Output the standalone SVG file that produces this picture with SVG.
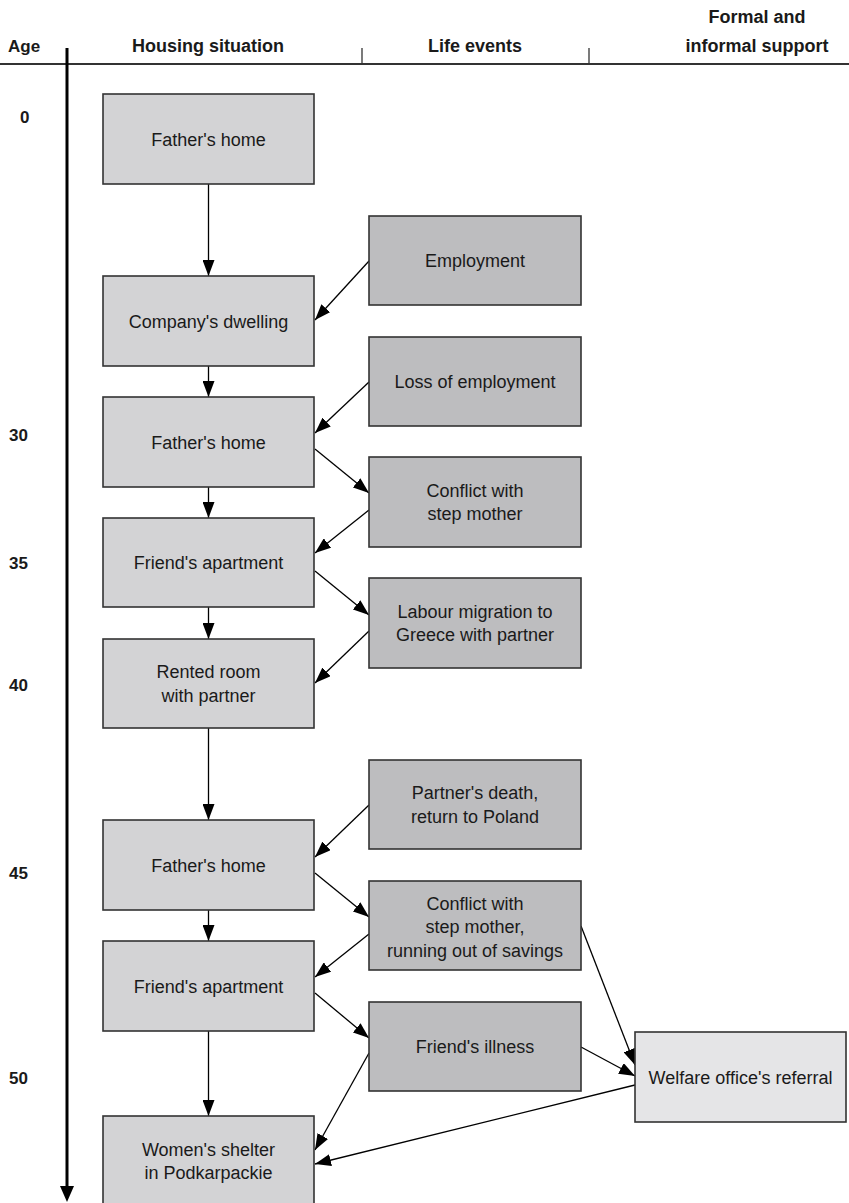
<svg xmlns="http://www.w3.org/2000/svg" width="849" height="1203" viewBox="0 0 849 1203">
<style>
text{font-family:"Liberation Sans",Arial,sans-serif;fill:#1a1a1a}
.h{font-size:18px;font-weight:bold;text-anchor:middle}
.age{font-size:17px;font-weight:bold}
.t{font-size:18px;text-anchor:middle}
.hs rect{fill:#d3d3d5;stroke:#333;stroke-width:1.6}
.le rect{fill:#bdbdbf;stroke:#333;stroke-width:1.6}
.fs rect{fill:#e5e5e7;stroke:#333;stroke-width:1.6}
.c line{stroke:#000;stroke-width:1.3;marker-end:url(#ah)}
</style>
<defs>
<marker id="ah" markerUnits="userSpaceOnUse" markerWidth="16" markerHeight="12" refX="16" refY="6" orient="auto">
<path d="M0,0 L16,6 L0,12 z" fill="#000"/>
</marker>
</defs>
<rect width="849" height="1203" fill="#fff"/>
<g id="header">
<text class="age" x="8" y="52">Age</text>
<text class="h" x="208" y="52">Housing situation</text>
<text class="h" x="475" y="52">Life events</text>
<text class="h" x="757" y="23">Formal and</text>
<text class="h" x="757" y="52">informal support</text>
<line x1="0" y1="64" x2="849" y2="64" stroke="#333" stroke-width="1.8"/>
<line x1="362" y1="48" x2="362" y2="64" stroke="#333" stroke-width="1.3"/>
<line x1="589" y1="48" x2="589" y2="64" stroke="#333" stroke-width="1.3"/>
</g>
<g id="axis">
<line x1="67" y1="48" x2="67" y2="1188" stroke="#000" stroke-width="3"/>
<polygon points="60,1186 74,1186 67,1202" fill="#000"/>
<text class="age" x="20" y="123">0</text>
<text class="age" x="9" y="441">30</text>
<text class="age" x="9" y="569">35</text>
<text class="age" x="9" y="691">40</text>
<text class="age" x="9" y="879">45</text>
<text class="age" x="9" y="1084">50</text>
</g>
<g id="connectors" class="c">
<line x1="208.5" y1="184" x2="208.5" y2="276"/>
<line x1="208.5" y1="366" x2="208.5" y2="397"/>
<line x1="208.5" y1="487" x2="208.5" y2="518"/>
<line x1="208.5" y1="607" x2="208.5" y2="639"/>
<line x1="208.5" y1="728" x2="208.5" y2="820"/>
<line x1="208.5" y1="910" x2="208.5" y2="941"/>
<line x1="208.5" y1="1031" x2="208.5" y2="1116"/>
<line x1="369" y1="261" x2="315" y2="320"/>
<line x1="369" y1="382" x2="315" y2="433"/>
<line x1="315" y1="449" x2="369" y2="493"/>
<line x1="369" y1="510" x2="315" y2="553"/>
<line x1="315" y1="571" x2="369" y2="615"/>
<line x1="369" y1="631" x2="315" y2="683"/>
<line x1="369" y1="805" x2="315" y2="857"/>
<line x1="315" y1="873" x2="369" y2="917"/>
<line x1="369" y1="934" x2="315" y2="977"/>
<line x1="315" y1="993" x2="369" y2="1038"/>
<line x1="369" y1="1053" x2="315" y2="1150"/>
<line x1="581" y1="926" x2="635" y2="1065"/>
<line x1="581" y1="1047" x2="635" y2="1076"/>
<line x1="635" y1="1085" x2="315" y2="1164"/>
</g>
<g id="h1" class="hs"><rect x="103" y="94" width="211" height="90"/><text class="t" x="208.5" y="145.5">Father's home</text></g>
<g id="h2" class="hs"><rect x="103" y="276" width="211" height="90"/><text class="t" x="208.5" y="327.5">Company's dwelling</text></g>
<g id="h3" class="hs"><rect x="103" y="397" width="211" height="90"/><text class="t" x="208.5" y="448.5">Father's home</text></g>
<g id="h4" class="hs"><rect x="103" y="518" width="211" height="89"/><text class="t" x="208.5" y="569">Friend's apartment</text></g>
<g id="h5" class="hs"><rect x="103" y="639" width="211" height="89"/><text class="t" x="208.5" y="678">Rented room</text><text class="t" x="208.5" y="701.5">with partner</text></g>
<g id="h6" class="hs"><rect x="103" y="820" width="211" height="90"/><text class="t" x="208.5" y="871.5">Father's home</text></g>
<g id="h7" class="hs"><rect x="103" y="941" width="211" height="90"/><text class="t" x="208.5" y="992.5">Friend's apartment</text></g>
<g id="h8" class="hs"><rect x="103" y="1116" width="211" height="90"/><text class="t" x="208.5" y="1155.5">Women's shelter</text><text class="t" x="208.5" y="1179">in Podkarpackie</text></g>
<g id="e1" class="le"><rect x="369" y="216" width="212" height="89"/><text class="t" x="475" y="267">Employment</text></g>
<g id="e2" class="le"><rect x="369" y="337" width="212" height="89"/><text class="t" x="475" y="388">Loss of employment</text></g>
<g id="e3" class="le"><rect x="369" y="457" width="212" height="90"/><text class="t" x="475" y="496.5">Conflict with</text><text class="t" x="475" y="520">step mother</text></g>
<g id="e4" class="le"><rect x="369" y="578" width="212" height="90"/><text class="t" x="475" y="617.5">Labour migration to</text><text class="t" x="475" y="641">Greece with partner</text></g>
<g id="e5" class="le"><rect x="369" y="760" width="212" height="89"/><text class="t" x="475" y="799">Partner's death,</text><text class="t" x="475" y="822.5">return to Poland</text></g>
<g id="e6" class="le"><rect x="369" y="881" width="212" height="89"/><text class="t" x="475" y="909.5">Conflict with</text><text class="t" x="475" y="933">step mother,</text><text class="t" x="475" y="956.5">running out of savings</text></g>
<g id="e7" class="le"><rect x="369" y="1002" width="212" height="89"/><text class="t" x="475" y="1053">Friend's illness</text></g>
<g id="s1" class="fs"><rect x="635" y="1032" width="211" height="90"/><text class="t" x="740.5" y="1083.5">Welfare office's referral</text></g>
</svg>
